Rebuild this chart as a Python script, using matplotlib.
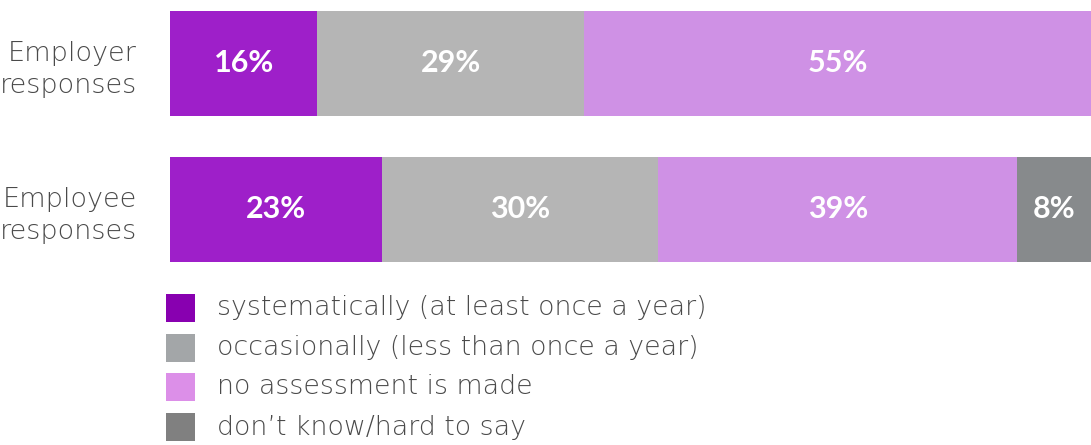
import matplotlib
matplotlib.use("Agg")
import matplotlib.pyplot as plt
from matplotlib.patches import Rectangle

categories = ["Employer\nresponses", "Employee\nresponses"]
series_names = ["systematically (at least once a year)",
                "occasionally (less than once a year)",
                "no assessment is made",
                "don\u2019t know/hard to say"]
values = {
    "systematically (at least once a year)": [16, 23],
    "occasionally (less than once a year)": [29, 30],
    "no assessment is made": [55, 39],
    "don\u2019t know/hard to say": [0, 8],
}
bar_colors = ["#9e1fc9", "#b5b5b5", "#cf91e5", "#878a8c"]
legend_colors = ["#8800b0", "#a3a6a8", "#dc8fe8", "#808080"]

plt.rcParams['font.family'] = ['DejaVu Sans']

W, H = 1091, 445
fig = plt.figure(figsize=(W / 100, H / 100), dpi=100)
ax = fig.add_axes([170 / W, (H - 262) / H, 921 / W, 251 / H])

ypos = list(range(len(categories)))
bar_h = 105 / 146
left = [0] * len(categories)
for name, col in zip(series_names, bar_colors):
    vals = values[name]
    bars = ax.barh(ypos, vals, left=left, height=bar_h, color=col, edgecolor='none')
    for rect, v in zip(bars, vals):
        if v > 0:
            ax.text(rect.get_x() + rect.get_width() / 2, rect.get_y() + rect.get_height() / 2,
                    f"{v}%", ha='center', va='center', color='white',
                    fontsize=22, fontweight='bold', family='Lato')
    left = [l + v for l, v in zip(left, vals)]

ax.set_xlim(0, 100)
ax.set_ylim(1 + bar_h / 2, -bar_h / 2)
ax.set_yticks(ypos)
ax.set_yticklabels(categories, fontsize=19.5, color='#4a4a4a', ha='right',
                   linespacing=1.35, fontweight='light')
ax.tick_params(axis='y', length=0, pad=24)
ax.set_xticks([])
for s in ax.spines.values():
    s.set_visible(False)

# legend
row_y = [308, 348, 387, 427]
for name, col, yc in zip(series_names, legend_colors, row_y):
    fig.patches.append(Rectangle((166 / W, (H - yc - 14) / H), 29 / W, 28 / H,
                                 transform=fig.transFigure, facecolor=col,
                                 edgecolor='none'))
    fig.text(217 / W, (H - yc) / H, name, ha='left', va='center',
             fontsize=19.3, color='#4a4a4a', fontweight='light')

fig.savefig("out.png", dpi=100)
